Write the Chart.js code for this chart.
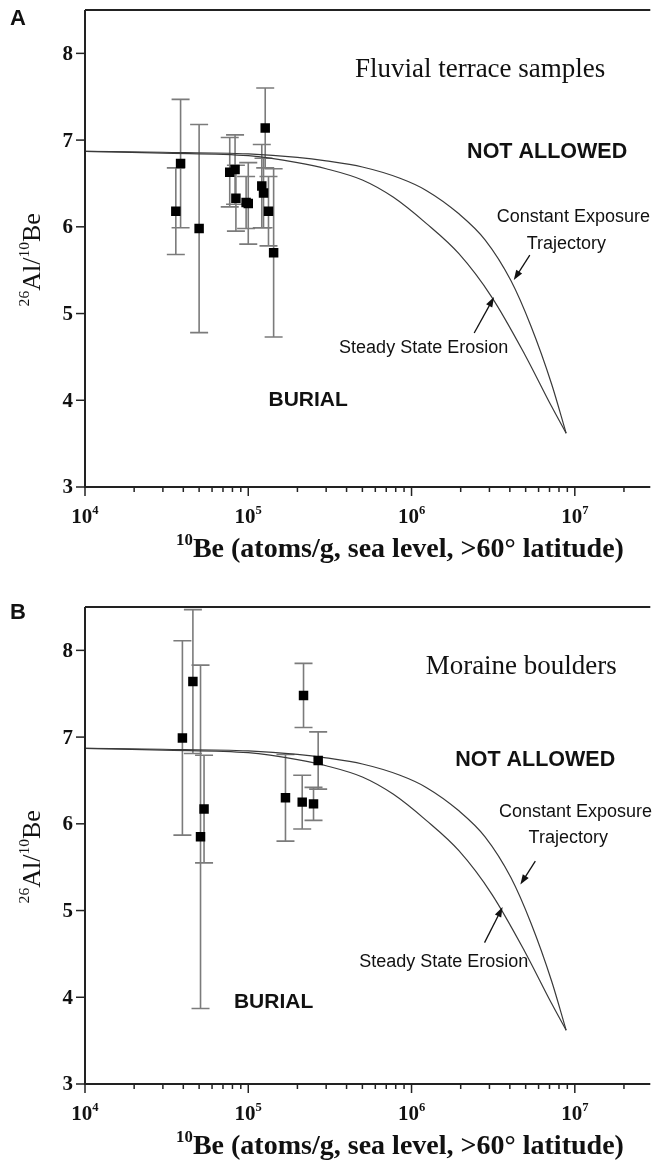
<!DOCTYPE html>
<html><head><meta charset="utf-8">
<script src="https://cdn.jsdelivr.net/npm/chart.js@4/dist/chart.umd.min.js"></script>
<style>
html,body{margin:0;padding:0;background:#fff;}
#wrap{position:relative;width:657px;height:1161px;overflow:hidden;background:#fff;}
canvas{position:absolute;left:0;}
#ca{top:0;}
#cb{top:580px;}
</style></head><body>
<div id="wrap">
<canvas id="ca" width="657" height="580"></canvas>
<canvas id="cb" width="657" height="581"></canvas>
</div>
<script>
// ---- tick definitions ----
const xTickMajor = [1e4, 1e5, 1e6, 1e7];
const xTickExp = ['4', '5', '6', '7'];
const yTicks = [3, 4, 5, 6, 7, 8];
const yTickLabels = ['3', '4', '5', '6', '7', '8'];

// ---- Panel A: fluvial terrace samples ----
const fluvialX = [3.6e4, 3.85e4, 5.0e4, 7.7e4, 8.3e4, 8.4e4, 9.7e4, 1.0e5, 1.21e5, 1.24e5, 1.27e5, 1.33e5, 1.43e5];
const fluvialY = [6.18, 6.73, 5.98, 6.63, 6.66, 6.33, 6.28, 6.27, 6.47, 6.39, 7.14, 6.18, 5.70];
const fluvialErr = [0.50, 0.74, 1.20, 0.40, 0.40, 0.38, 0.30, 0.47, 0.48, 0.40, 0.46, 0.40, 0.97];

// ---- Panel B: moraine boulders ----
const moraineX = [3.95e4, 4.58e4, 5.1e4, 5.36e4, 1.69e5, 2.14e5, 2.18e5, 2.51e5, 2.68e5];
const moraineY = [6.99, 7.64, 5.85, 6.17, 6.30, 6.25, 7.48, 6.23, 6.73];
const moraineErr = [1.12, 0.83, 1.98, 0.62, 0.50, 0.31, 0.37, 0.19, 0.33];

// ---- Model curves ----
const ceX = [1e4, 3e4, 1e5, 2e5, 3e5, 5e5, 8.5e5, 1.23e6, 1.95e6, 2.82e6, 4.06e6, 5.4e6, 7.2e6, 8.85e6];
const ceY = [6.87, 6.86, 6.84, 6.80, 6.76, 6.69, 6.56, 6.42, 6.15, 5.85, 5.38, 4.85, 4.19, 3.62];
const ssX = [1e4, 3e4, 1e5, 2e5, 3e5, 5e5, 7.75e5, 1.23e6, 1.95e6, 3.1e6, 4.9e6, 7.2e6, 8.85e6];
const ssY = [6.87, 6.85, 6.82, 6.74, 6.67, 6.54, 6.34, 6.04, 5.69, 5.19, 4.54, 3.93, 3.62];

const SERIF = '"Liberation Serif","Times New Roman",serif';
const SANS = '"Liberation Sans",Arial,sans-serif';

// annotations (data coordinates)
const annA = {
  letter: 'A',
  title: 'Fluvial terrace samples', titleAt: [4.5e5, 7.81],
  notAllowed: [2.19e6, 6.86],
  ce1: [3.33e6, 6.11], ce2: [5.07e6, 5.80],
  ceArrow: [[5.3e6, 5.674], [4.23e6, 5.386]],
  ss: [3.6e5, 4.60],
  ssArrow: [[2.42e6, 4.775], [3.2e6, 5.19]],
  burial: [1.33e5, 4.0],
  ylabelAt: 5.62
};
const annB = {
  letter: 'B',
  title: 'Moraine boulders', titleAt: [1.22e6, 7.81],
  notAllowed: [1.85e6, 6.74],
  ce1: [3.43e6, 6.14], ce2: [5.21e6, 5.84],
  ceArrow: [[5.73e6, 5.57], [4.64e6, 5.30]],
  ss: [4.78e5, 4.41],
  ssArrow: [[2.8e6, 4.63], [3.61e6, 5.04]],
  burial: [8.17e4, 3.94],
  ylabelAt: 5.62
};

function richWidth(ctx, parts, size, weight, family) {
  let w = 0;
  parts.forEach(p => {
    const s = p.sup ? size * 0.6 : size;
    ctx.font = `${weight} ${s}px ${family}`;
    w += ctx.measureText(p.t).width;
  });
  return w;
}
function drawRich(ctx, parts, x, y, size, weight, family, align) {
  const w = richWidth(ctx, parts, size, weight, family);
  let cx = align === 'center' ? x - w / 2 : (align === 'right' ? x - w : x);
  ctx.textAlign = 'left';
  ctx.textBaseline = 'alphabetic';
  parts.forEach(p => {
    const s = p.sup ? size * 0.6 : size;
    ctx.font = `${weight} ${s}px ${family}`;
    ctx.fillText(p.t, cx, p.sup ? y - size * 0.42 : y);
    cx += ctx.measureText(p.t).width;
  });
}
function arrow(ctx, x1, y1, x2, y2) {
  const ang = Math.atan2(y2 - y1, x2 - x1);
  const L = 10, W = 3.5;
  ctx.beginPath();
  ctx.moveTo(x1, y1);
  ctx.lineTo(x2 - Math.cos(ang) * L * 0.8, y2 - Math.sin(ang) * L * 0.8);
  ctx.stroke();
  ctx.beginPath();
  ctx.moveTo(x2, y2);
  ctx.lineTo(x2 - Math.cos(ang) * L + Math.sin(ang) * W, y2 - Math.sin(ang) * L - Math.cos(ang) * W);
  ctx.lineTo(x2 - Math.cos(ang) * L - Math.sin(ang) * W, y2 - Math.sin(ang) * L + Math.cos(ang) * W);
  ctx.closePath();
  ctx.fill();
}

function decoPlugin(px, py, pe, ann) {
  return {
    id: 'deco',
    beforeDatasetsDraw(chart) {
      const { ctx, scales: { x, y } } = chart;
      ctx.save();
      ctx.strokeStyle = '#7b7b7b';
      ctx.lineWidth = 1.6;
      px.forEach((xv, i) => {
        const X = x.getPixelForValue(xv);
        const yt = y.getPixelForValue(py[i] + pe[i]);
        const yb = y.getPixelForValue(py[i] - pe[i]);
        ctx.beginPath();
        ctx.moveTo(X, yt); ctx.lineTo(X, yb);
        ctx.moveTo(X - 9, yt); ctx.lineTo(X + 9, yt);
        ctx.moveTo(X - 9, yb); ctx.lineTo(X + 9, yb);
        ctx.stroke();
      });
      ctx.restore();
    },
    afterDraw(chart) {
      const { ctx, chartArea: a, scales: { x, y } } = chart;
      ctx.save();
      // frame
      ctx.strokeStyle = '#222';
      ctx.lineWidth = 2;
      ctx.beginPath();
      ctx.moveTo(a.left, a.top); ctx.lineTo(a.right, a.top);
      ctx.moveTo(a.left, a.top); ctx.lineTo(a.left, a.bottom + 1);
      ctx.moveTo(a.left - 1, a.bottom); ctx.lineTo(a.right, a.bottom);
      ctx.stroke();
      // y ticks
      ctx.lineWidth = 1.5;
      ctx.fillStyle = '#111';
      yTicks.forEach((v, i) => {
        const Y = y.getPixelForValue(v);
        ctx.beginPath(); ctx.moveTo(a.left - 9, Y); ctx.lineTo(a.left, Y); ctx.stroke();
        ctx.font = `bold 21px ${SERIF}`;
        ctx.textAlign = 'right'; ctx.textBaseline = 'middle';
        ctx.fillText(yTickLabels[i], a.left - 12, Y + 1);
      });
      // x ticks
      const xmax = x.max;
      xTickMajor.forEach((v, i) => {
        const X = x.getPixelForValue(v);
        ctx.beginPath(); ctx.moveTo(X, a.bottom); ctx.lineTo(X, a.bottom + 9); ctx.stroke();
        drawRich(ctx, [{ t: '10' }, { t: xTickExp[i], sup: true }], X, a.bottom + 36, 21, 'bold', SERIF, 'center');
        for (let m = 2; m <= 9; m++) {
          const mv = v * m;
          if (mv > xmax) break;
          const MX = x.getPixelForValue(mv);
          ctx.beginPath(); ctx.moveTo(MX, a.bottom); ctx.lineTo(MX, a.bottom + 5); ctx.stroke();
        }
      });
      // x title
      const tparts = [{ t: '10', sup: true }, { t: 'Be (atoms/g, sea level, >60° latitude)' }];
      let ts = 26;
      ts = ts * 448 / richWidth(ctx, tparts, ts, 'bold', SERIF);
      drawRich(ctx, tparts, 400, a.bottom + 70, ts, 'bold', SERIF, 'center');
      // y title
      ctx.save();
      ctx.translate(40, y.getPixelForValue(ann.ylabelAt));
      ctx.rotate(-Math.PI / 2);
      drawRich(ctx, [{ t: '26', sup: true }, { t: 'Al/' }, { t: '10', sup: true }, { t: 'Be' }], 0, 0, 26, 'normal', SERIF, 'center');
      ctx.restore();
      // panel letter
      ctx.font = `bold 22px ${SANS}`;
      ctx.textAlign = 'left'; ctx.textBaseline = 'middle';
      ctx.fillText(ann.letter, 10, a.top + 9 - (ann.letter === 'B' ? 3 : 0));
      // annotations
      const P = (pt) => [x.getPixelForValue(pt[0]), y.getPixelForValue(pt[1])];
      ctx.textAlign = 'left'; ctx.textBaseline = 'middle';
      ctx.fillStyle = '#111';
      let p = P(ann.titleAt);
      ctx.font = `27px ${SERIF}`; ctx.fillText(ann.title, p[0], p[1]);
      p = P(ann.notAllowed);
      ctx.font = `bold 21.5px ${SANS}`; ctx.fillText('NOT ALLOWED', p[0], p[1]);
      p = P(ann.burial);
      ctx.font = `bold 21px ${SANS}`; ctx.fillText('BURIAL', p[0], p[1]);
      ctx.font = `18px ${SANS}`;
      p = P(ann.ce1); ctx.fillText('Constant Exposure', p[0], p[1]);
      p = P(ann.ce2); ctx.fillText('Trajectory', p[0], p[1]);
      p = P(ann.ss); ctx.fillText('Steady State Erosion', p[0], p[1]);
      ctx.strokeStyle = '#111'; ctx.fillStyle = '#111'; ctx.lineWidth = 1.3;
      let t = P(ann.ceArrow[0]), h = P(ann.ceArrow[1]);
      arrow(ctx, t[0], t[1], h[0], h[1]);
      t = P(ann.ssArrow[0]); h = P(ann.ssArrow[1]);
      arrow(ctx, t[0], t[1], h[0], h[1]);
      ctx.restore();
    }
  };
}

function build(id, px, py, pe, ann, pad) {
  const pts = px.map((v, i) => ({ x: v, y: py[i] }));
  new Chart(document.getElementById(id), {
    type: 'scatter',
    data: {
      datasets: [
        { data: ceX.map((v, i) => ({ x: v, y: ceY[i] })), showLine: true, pointRadius: 0, borderColor: '#3a3a3a', borderWidth: 1.2, cubicInterpolationMode: 'monotone', order: 2 },
        { data: ssX.map((v, i) => ({ x: v, y: ssY[i] })), showLine: true, pointRadius: 0, borderColor: '#3a3a3a', borderWidth: 1.2, cubicInterpolationMode: 'monotone', order: 2 },
        { data: pts, pointStyle: 'rect', pointRadius: 6.7, backgroundColor: '#000', borderColor: '#000', borderWidth: 0, order: 0 }
      ]
    },
    options: {
      responsive: false, animation: false, devicePixelRatio: 1, events: [],
      layout: { padding: pad },
      plugins: { legend: { display: false }, tooltip: { enabled: false } },
      scales: {
        x: { type: 'logarithmic', min: 1e4, max: 2.9e7, display: false },
        y: { type: 'linear', min: 3, max: 8.5, display: false }
      }
    },
    plugins: [decoPlugin(px, py, pe, ann)]
  });
}

build('ca', fluvialX, fluvialY, fluvialErr, annA, { left: 85, top: 10, right: 0, bottom: 93 });
build('cb', moraineX, moraineY, moraineErr, annB, { left: 85, top: 27, right: 0, bottom: 77 });
</script>
</body></html>
